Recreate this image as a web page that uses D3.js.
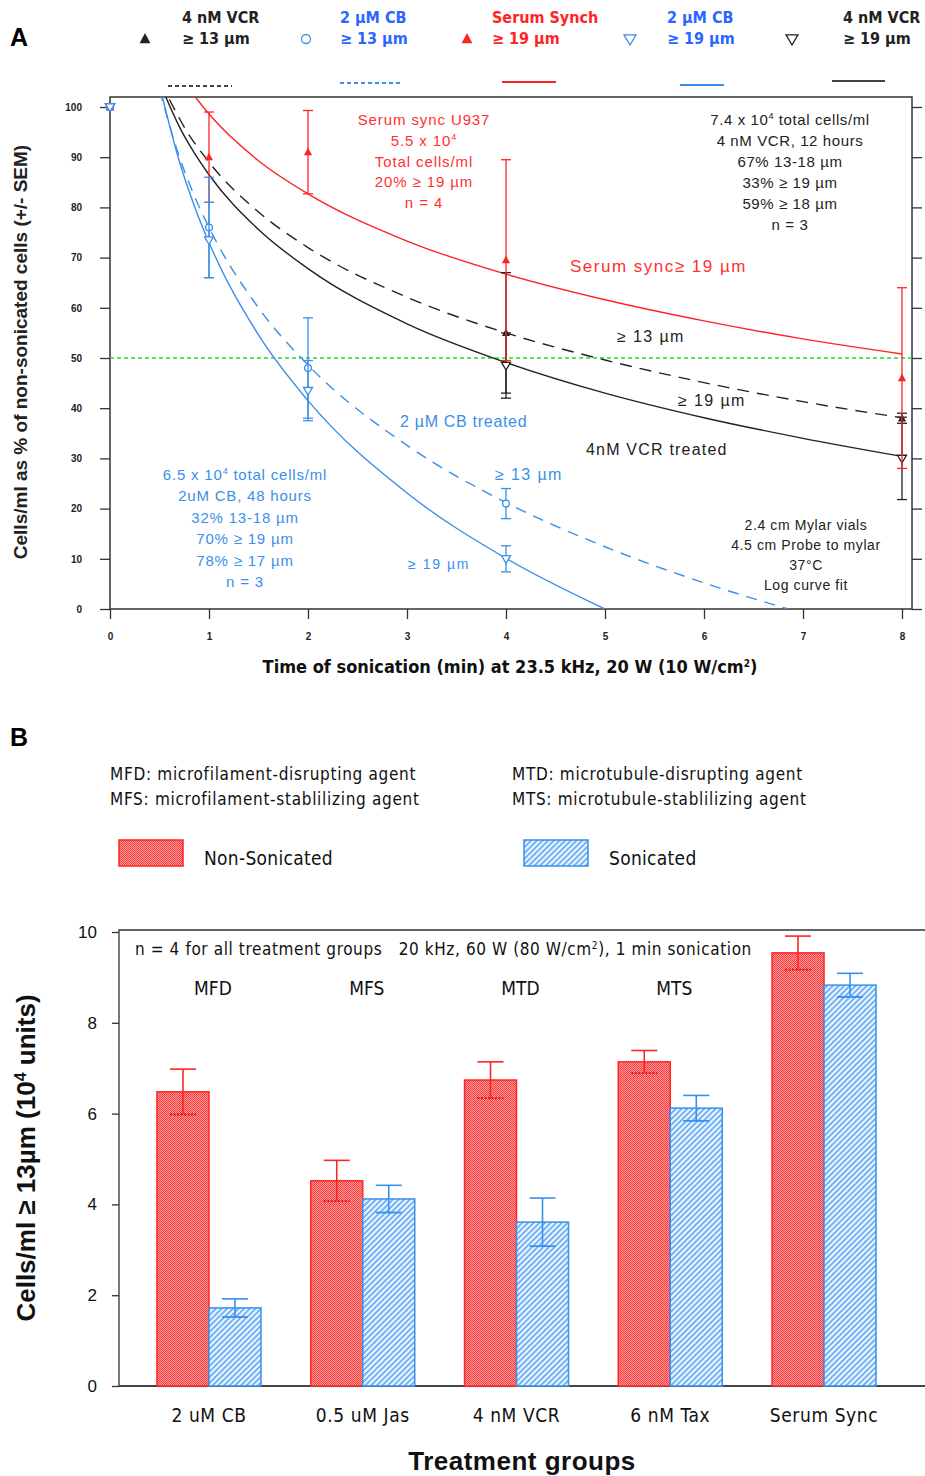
<html>
<head>
<script src="https://d3js.org/d3.v7.min.js"></script>
<style>
body { margin: 0; background: #fff; }
text { font-family: Arial, "Liberation Sans", sans-serif; }
.narrow { font-family: "Liberation Sans Narrow", "Arial Narrow", "DejaVu Sans Condensed", sans-serif; }
.axisA text { font-family: "Liberation Sans Narrow", "Arial Narrow", sans-serif; font-weight: bold; font-size: 10px; fill: #222; }
.axisA line, .axisA path { stroke: #333; stroke-width: 1.3; }
.axisB text { font-family: "Liberation Sans Narrow", "Arial Narrow", sans-serif; font-size: 17px; fill: #111; }
.axisB line, .axisB path { stroke: #333; stroke-width: 1.3; }
</style>
</head>
<body>
<svg id="fig" width="925" height="1476"></svg>
<script>
// ---------- panel A data ----------
const timeTicks = [0, 1, 2, 3, 4, 5, 6, 7, 8];
const pctTicks = [0, 10, 20, 30, 40, 50, 60, 70, 80, 90, 100];

// log curve fits as [minutes, percent]
const vcr13Curve = [[0.6, 101.5], [0.75, 96.0], [1, 89.0], [1.5, 79.1], [2, 72.0], [3, 62.1], [4, 55.0], [5, 49.6], [6, 45.1], [7, 41.3], [8, 38.1]];
const vcr19Curve = [[0.55, 102.6], [0.7, 96.1], [0.85, 90.9], [1, 86.5], [1.5, 75.6], [2, 67.8], [3, 56.8], [4, 49.1], [5, 43.0], [6, 38.1], [7, 34.0], [8, 30.4]];
const serumCurve = [[0.85, 102.3], [1, 98.6], [1.5, 89.3], [2, 82.7], [3, 73.3], [4, 66.7], [5, 61.6], [6, 57.4], [7, 53.8], [8, 50.8]];
const cb13Curve = [[0.5, 103.4], [0.7, 90.1], [0.85, 82.4], [1, 76.0], [1.5, 60.0], [2, 48.6], [3, 32.6], [4, 21.2], [5, 12.4], [6, 5.2], [6.85, 0]];
const cb19Curve = [[0.52, 102.7], [0.7, 89.2], [0.85, 80.4], [1, 73.0], [1.5, 54.6], [2, 41.5], [3, 23.1], [4, 10.1], [5, 0]];

// measured points: time, mean %, SEM
const vcr13Points = [[0, 100, 0], [4, 55, 12], [8, 38, 1]];
const vcr19Points = [[0, 100, 0], [4, 48.5, 6.5], [8, 30, 8.2]];
const serumPoints = [[0, 100, 0], [1, 90, 9], [2, 91, 8.3], [4, 69.5, 20], [8, 46, 18]];
const cb13Points = [[0, 100, 0], [1, 76, 10], [2, 48, 10], [4, 21, 3]];
const cb19Points = [[0, 100, 0], [1, 73.5, 7.5], [2, 43.5, 6], [4, 10, 2.6]];

// ---------- panel B data ----------
const groups = ["2 uM CB", "0.5 uM Jas", "4 nM VCR", "6 nM Tax", "Serum Sync"];
const nonSonicated = [6.48, 4.52, 6.74, 7.14, 9.54];
const nonSonicatedErr = [0.5, 0.45, 0.4, 0.25, 0.37];
const sonicated = [1.72, 4.12, 3.61, 6.12, 8.83];
const sonicatedErr = [0.2, 0.3, 0.53, 0.28, 0.26];
const countTicks = [0, 2, 4, 6, 8, 10];
const agentClasses = ["MFD", "MFS", "MTD", "MTS"];

const RED = "#ff2424", REDTXT = "#ff3030", BLUE = "#3a8fea", BLUETXT = "#2a66ff", BLK = "#222";

const svg = d3.select("#fig");
const defs = svg.append("defs");

// ======================= PANEL A =======================
const A = { left: 110, right: 912, top: 97, bottom: 609 };
const x = d3.scaleLinear().domain([0, 8]).range([110, 902]);
const y = d3.scaleLinear().domain([0, 100]).range([609, 107]);

defs.append("clipPath").attr("id", "clipA")
    .append("rect").attr("x", A.left).attr("y", A.top)
    .attr("width", A.right - A.left).attr("height", A.bottom - A.top);

svg.append("text").attr("x", 10).attr("y", 46)
    .style("font-size", "25px").style("font-weight", "bold").text("A");

// axes
svg.append("g").attr("class", "axisA")
    .attr("transform", `translate(${A.left},0)`)
    .call(d3.axisLeft(y).tickValues(pctTicks).tickSize(10).tickPadding(18))
    .call(g => g.select(".domain").remove());
svg.append("g").attr("class", "axisA")
    .attr("transform", `translate(${A.right},0)`)
    .call(d3.axisRight(y).tickValues(pctTicks).tickSize(10).tickFormat(""))
    .call(g => g.select(".domain").remove());
svg.append("g").attr("class", "axisA")
    .attr("transform", `translate(0,${A.bottom})`)
    .call(d3.axisBottom(x).tickValues(timeTicks).tickSize(10).tickPadding(14))
    .call(g => g.select(".domain").remove());

svg.append("rect").attr("x", A.left).attr("y", A.top)
    .attr("width", A.right - A.left).attr("height", A.bottom - A.top)
    .attr("fill", "none").attr("stroke", "#333").attr("stroke-width", 1.5);

// 50% guide
svg.append("line").attr("x1", A.left).attr("x2", A.right)
    .attr("y1", y(50)).attr("y2", y(50))
    .attr("stroke", "#22dd22").attr("stroke-width", 1.3).attr("stroke-dasharray", "4,3");

// curves
const line = d3.line().x(d => x(d[0])).y(d => y(d[1])).curve(d3.curveMonotoneX);
const curves = svg.append("g").attr("clip-path", "url(#clipA)");
[[serumCurve, RED, null], [vcr13Curve, BLK, "12,8"], [vcr19Curve, BLK, null],
 [cb13Curve, BLUE, "11,8"], [cb19Curve, BLUE, null]].forEach(([data, col, dash]) => {
    curves.append("path").datum(data).attr("d", line)
        .attr("fill", "none").attr("stroke", col).attr("stroke-width", 1.4)
        .attr("stroke-dasharray", dash);
});

// markers
function marker(g, kind, cx, cy, col, s) {
    s = s || 5;
    if (kind === "triUp") {
        g.append("path").attr("d", `M${cx},${cy - s} L${cx + s * 0.9},${cy + s * 0.7} L${cx - s * 0.9},${cy + s * 0.7} Z`)
            .attr("fill", col);
    } else if (kind === "triDown") {
        g.append("path").attr("d", `M${cx - s},${cy - s * 0.7} L${cx + s},${cy - s * 0.7} L${cx},${cy + s} Z`)
            .attr("fill", "white").attr("stroke", col).attr("stroke-width", 1.3);
    } else {
        g.append("circle").attr("cx", cx).attr("cy", cy).attr("r", s * 0.75)
            .attr("fill", "white").attr("stroke", col).attr("stroke-width", 1.3);
    }
}

const pts = svg.append("g");
function drawSeries(data, kind, col, capW) {
    data.forEach(([t, v, e]) => {
        const cx = x(t);
        if (e > 0) {
            pts.append("line").attr("x1", cx).attr("x2", cx)
                .attr("y1", y(v - e)).attr("y2", y(Math.min(v + e, 101.5)))
                .attr("stroke", col).attr("stroke-width", 1.3);
            [v - e, v + e].forEach(c => {
                pts.append("line").attr("x1", cx - capW).attr("x2", cx + capW)
                    .attr("y1", y(c)).attr("y2", y(c))
                    .attr("stroke", col).attr("stroke-width", 1.3);
            });
        }
        marker(pts, kind, cx, y(v), col, 4.5);
    });
}
drawSeries(vcr13Points, "triUp", BLK, 5);
drawSeries(vcr19Points, "triDown", BLK, 5);
drawSeries(serumPoints, "triUp", RED, 5);
drawSeries(cb13Points, "circle", BLUE, 5);
drawSeries(cb19Points, "triDown", BLUE, 5);

// legend A
const legA = [
    { x: 182, mx: 145, l1: "4 nM VCR", l2: "\u2265 13 \u00b5m", col: BLK, kind: "triUp", lx: [168, 232], ly: 86, dash: "4,3", lc: "#444" },
    { x: 340, mx: 306, l1: "2 \u00b5M CB", l2: "\u2265 13 \u00b5m", col: BLUETXT, kind: "circle", mc: BLUE, lx: [340, 400], ly: 83, dash: "4,3", lc: BLUE },
    { x: 492, mx: 467, l1: "Serum Synch", l2: "\u2265 19 \u00b5m", col: RED, kind: "triUp", lx: [502, 556], ly: 82, dash: null, lc: RED },
    { x: 667, mx: 630, l1: "2 \u00b5M CB", l2: "\u2265 19 \u00b5m", col: BLUETXT, kind: "triDown", mc: BLUE, lx: [680, 724], ly: 85, dash: null, lc: BLUE },
    { x: 843, mx: 792, l1: "4 nM VCR", l2: "\u2265 19 \u00b5m", col: BLK, kind: "triDown", lx: [832, 885], ly: 81, dash: null, lc: "#444" }
];
const lg = svg.append("g");
legA.forEach(d => {
    lg.append("text").attr("class", "narrow").attr("x", d.x).attr("y", 23)
        .style("font-size", "16px").style("font-weight", "bold").attr("fill", d.col).text(d.l1);
    lg.append("text").attr("class", "narrow").attr("x", d.x).attr("y", 44)
        .style("font-size", "16px").style("font-weight", "bold").attr("fill", d.col).text(d.l2);
    marker(lg, d.kind, d.mx, 39, d.mc || d.col, 6);
    lg.append("line").attr("x1", d.lx[0]).attr("x2", d.lx[1]).attr("y1", d.ly).attr("y2", d.ly)
        .attr("stroke", d.lc).attr("stroke-width", 2).attr("stroke-dasharray", d.dash);
});

// annotations A
function block(lines, cx, y0, dy, size, col, ls) {
    lines.forEach((l, i) => {
        const t = svg.append("text").attr("x", cx).attr("y", y0 + i * dy)
            .attr("text-anchor", "middle").style("font-size", size + "px")
            .style("letter-spacing", ls + "px").attr("fill", col);
        if (Array.isArray(l)) {
            t.append("tspan").text(l[0]);
            t.append("tspan").attr("dy", -6).style("font-size", (size * 0.6) + "px").text(l[1]);
            t.append("tspan").attr("dy", 6).text(l[2]);
        } else t.text(l);
    });
}
block(["Serum sync U937", ["5.5 x 10", "4", ""], "Total cells/ml", "20% \u2265 19 \u00b5m", "n = 4"], 424, 125, 20.8, 15, REDTXT, 0.9);
block([["7.4 x 10", "4", " total cells/ml"], "4 nM VCR, 12 hours", "67% 13-18 \u00b5m", "33% \u2265 19 \u00b5m", "59% \u2265 18 \u00b5m", "n = 3"], 790, 125, 21, 15, BLK, 0.6);
block([["6.5 x 10", "4", " total cells/ml"], "2uM CB, 48 hours", "32% 13-18 \u00b5m", "70% \u2265 19 \u00b5m", "78% \u2265 17 \u00b5m", "n = 3"], 245, 480, 21.4, 15, BLUE, 0.8);
block(["2.4 cm Mylar vials", "4.5 cm Probe to mylar", "37\u00b0C", "Log curve fit"], 806, 530, 20, 14, BLK, 0.6);

function label(txt, x0, y0, size, col, ls) {
    svg.append("text").attr("x", x0).attr("y", y0).style("font-size", size + "px")
        .style("letter-spacing", (ls || 0) + "px").attr("fill", col).text(txt);
}
label("Serum sync\u2265 19 \u00b5m", 570, 272, 17, REDTXT, 1.5);
label("\u2265  13  \u00b5m", 617, 342, 16, BLK, 1.4);
label("\u2265  19  \u00b5m", 678, 406, 16, BLK, 1.4);
label("2 \u00b5M CB treated", 400, 427, 16, BLUE, 0.7);
label("4nM  VCR  treated", 586, 455, 16, BLK, 1.2);
label("\u2265  13  \u00b5m", 495, 480, 16, BLUE, 1.4);
label("\u2265 19 \u00b5m", 408, 569, 14, BLUE, 1.6);

// axis titles A
const xt = svg.append("text").attr("class", "narrow").attr("x", 510).attr("y", 673)
    .attr("text-anchor", "middle").style("font-size", "18px").style("font-weight", "bold").attr("fill", "#111");
xt.append("tspan").text("Time of sonication (min) at 23.5 kHz, 20 W (10 W/cm");
xt.append("tspan").attr("dy", -6).style("font-size", "10px").text("2");
xt.append("tspan").attr("dy", 6).text(")");
svg.append("text").attr("transform", "translate(27,352) rotate(-90)")
    .attr("text-anchor", "middle").style("font-size", "19px").style("font-weight", "bold").attr("fill", "#222")
    .text("Cells/ml as % of non-sonicated cells (+/- SEM)");

// ======================= PANEL B =======================
const B = { left: 119, right: 925, top: 930, bottom: 1386 };
const xb = d3.scaleBand().domain(groups).range([119, 914]).paddingInner(0.3236).paddingOuter(0.247);
const yb = d3.scaleLinear().domain([0, 10]).range([1386, 932]);

svg.append("text").attr("x", 10).attr("y", 746)
    .style("font-size", "25px").style("font-weight", "bold").text("B");

[["MFD: microfilament-disrupting agent", 110, 780], ["MFS: microfilament-stablilizing agent", 110, 805],
 ["MTD:  microtubule-disrupting  agent", 512, 780], ["MTS:  microtubule-stablilizing  agent", 512, 805]]
    .forEach(([t, x0, y0]) => {
        svg.append("text").attr("class", "narrow").attr("x", x0).attr("y", y0)
            .style("font-size", "17px").style("letter-spacing", "0.7px").attr("fill", "#111").text(t);
    });

// patterns
const pr = defs.append("pattern").attr("id", "redFill").attr("patternUnits", "userSpaceOnUse")
    .attr("width", 2).attr("height", 2);
pr.append("rect").attr("width", 2).attr("height", 2).attr("fill", "#ff9a9a");
pr.append("rect").attr("width", 1).attr("height", 1).attr("fill", "#ff3c3c");
pr.append("rect").attr("x", 1).attr("y", 1).attr("width", 1).attr("height", 1).attr("fill", "#ff3c3c");
const pb = defs.append("pattern").attr("id", "blueFill").attr("patternUnits", "userSpaceOnUse")
    .attr("width", 4).attr("height", 4).attr("patternTransform", "rotate(-45)");
pb.append("rect").attr("width", 4).attr("height", 4).attr("fill", "#eef6ff");
pb.append("line").attr("x1", 0).attr("x2", 4).attr("y1", 2).attr("y2", 2)
    .attr("stroke", "#4a9df2").attr("stroke-width", 1.5);

// legend B
[[119, "redFill", RED, "Non-Sonicated", 204], [524, "blueFill", BLUE, "Sonicated", 609]].forEach(([x0, f, c, t, tx]) => {
    svg.append("rect").attr("x", x0).attr("y", 840).attr("width", 64).attr("height", 26)
        .attr("fill", `url(#${f})`).attr("stroke", c).attr("stroke-width", 1.5);
    svg.append("text").attr("class", "narrow").attr("x", tx).attr("y", 865)
        .style("font-size", "19px").style("letter-spacing", "0.3px").attr("fill", "#111").text(t);
});

// axes B
svg.append("g").attr("class", "axisB")
    .attr("transform", `translate(${B.left},0)`)
    .call(d3.axisLeft(yb).tickValues(countTicks).tickSize(7).tickPadding(15))
    .call(g => g.select(".domain").remove());
svg.append("path").attr("d", `M${B.right},${B.top} H${B.left} V${B.bottom}`)
    .attr("fill", "none").attr("stroke", "#333").attr("stroke-width", 1.3);
svg.append("line").attr("x1", B.left).attr("x2", B.right).attr("y1", B.bottom).attr("y2", B.bottom)
    .attr("stroke", "#444").attr("stroke-width", 2);

svg.append("g").selectAll("text").data(groups).join("text")
    .attr("class", "narrow").attr("x", d => xb(d) + xb.bandwidth() / 2).attr("y", 1422)
    .attr("text-anchor", "middle").style("font-size", "19px").style("letter-spacing", "0.6px")
    .attr("fill", "#111").text(d => d);

// bars
const bw = xb.bandwidth() / 2;
const bars = svg.append("g");
function drawBars(vals, errs, off, fill, col, lowDash, lowCol) {
    groups.forEach((gname, i) => {
        const x0 = xb(gname) + off;
        bars.append("rect").attr("x", x0).attr("y", yb(vals[i]))
            .attr("width", bw).attr("height", yb(0) - yb(vals[i]))
            .attr("fill", `url(#${fill})`).attr("stroke", col).attr("stroke-width", 1.5);
        const cx = x0 + bw / 2;
        bars.append("line").attr("x1", cx).attr("x2", cx)
            .attr("y1", yb(vals[i] + errs[i])).attr("y2", yb(vals[i] - errs[i]))
            .attr("stroke", col).attr("stroke-width", 1.6);
        bars.append("line").attr("x1", cx - 13).attr("x2", cx + 13)
            .attr("y1", yb(vals[i] + errs[i])).attr("y2", yb(vals[i] + errs[i]))
            .attr("stroke", col).attr("stroke-width", 1.6);
        bars.append("line").attr("x1", cx - 13).attr("x2", cx + 13)
            .attr("y1", yb(vals[i] - errs[i])).attr("y2", yb(vals[i] - errs[i]))
            .attr("stroke", lowCol).attr("stroke-width", 1.8).attr("stroke-dasharray", lowDash);
    });
}
drawBars(nonSonicated, nonSonicatedErr, 0, "redFill", RED, "2,1.5", "#d81010");
drawBars(sonicated, sonicatedErr, bw, "blueFill", BLUE, null, BLUE);

// annotations B
const nt = svg.append("text").attr("class", "narrow").attr("x", 135).attr("y", 955)
    .style("font-size", "17px").style("letter-spacing", "0.6px").style("white-space", "pre").attr("fill", "#111");
nt.append("tspan").text("n = 4 for all treatment groups   20 kHz, 60 W (80 W/cm");
nt.append("tspan").attr("dy", -6).style("font-size", "10px").text("2");
nt.append("tspan").attr("dy", 6).text("), 1 min sonication");
agentClasses.forEach((c, i) => {
    svg.append("text").attr("class", "narrow").attr("x", xb(groups[i]) + xb.bandwidth() / 2 + 4).attr("y", 995)
        .attr("text-anchor", "middle").style("font-size", "19px").attr("fill", "#111").text(c);
});

// axis titles B
svg.append("text").attr("x", 522).attr("y", 1470).attr("text-anchor", "middle")
    .style("font-size", "26px").style("font-weight", "bold").style("letter-spacing", "0.5px")
    .attr("fill", "#111").text("Treatment groups");
const yt = svg.append("text").attr("transform", "translate(35,1158) rotate(-90)")
    .attr("text-anchor", "middle").style("font-size", "26px").style("font-weight", "bold").attr("fill", "#111");
yt.append("tspan").text("Cells/ml \u2265 13\u00b5m (10");
yt.append("tspan").attr("dy", -9).style("font-size", "16px").text("4");
yt.append("tspan").attr("dy", 9).text(" units)");
</script>
</body>
</html>
